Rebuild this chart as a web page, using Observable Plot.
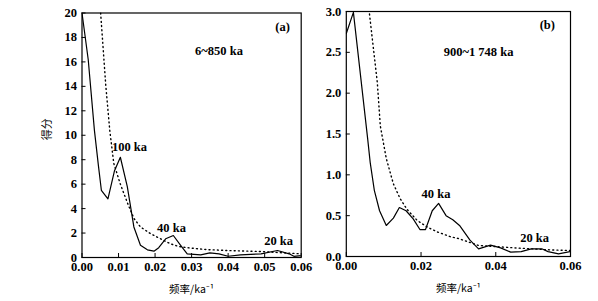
<!DOCTYPE html>
<html><head><meta charset="utf-8">
<script src="https://cdn.jsdelivr.net/npm/d3@7"></script>
<script src="https://cdn.jsdelivr.net/npm/@observablehq/plot@0.6"></script>
<style>
body{margin:0;background:#fff;}
#wrap{position:relative;width:598px;height:301px;overflow:hidden;}
#wrap svg{position:absolute;top:0;}
</style>
</head><body><div id="wrap"></div>
<script>
// Panel (a): 6~850 ka
const aFreq  = [0, 0.0017, 0.0034, 0.0045, 0.0053, 0.0071, 0.0089, 0.0105, 0.0124, 0.0142, 0.016, 0.0179, 0.0197, 0.021, 0.0229, 0.025, 0.027, 0.0288, 0.0325, 0.035, 0.0375, 0.04, 0.0434, 0.049, 0.0535, 0.0567, 0.058, 0.06];
const aScore = [20, 16.2, 10.4, 7.5, 5.5, 4.8, 7.1, 8.2, 5.8, 2.5, 1.0, 0.63, 0.52, 0.8, 1.53, 1.8, 1.0, 0.3, 0.22, 0.38, 0.3, 0.1, 0.22, 0.3, 0.57, 0.3, 0.1, 0.16];
const aRedFreq  = [0.0051, 0.0065, 0.0076, 0.0087, 0.0105, 0.0124, 0.0142, 0.016, 0.0188, 0.0215, 0.0242, 0.0265, 0.0288, 0.034, 0.0398, 0.049, 0.06];
const aRedScore = [20, 14.1, 10.4, 7.7, 6.0, 4.5, 3.2, 2.5, 1.94, 1.53, 1.12, 0.9, 0.8, 0.65, 0.57, 0.49, 0.3];
const aYTicks = [0, 2, 4, 6, 8, 10, 12, 14, 16, 18, 20];
const aXTicks = [0, 0.01, 0.02, 0.03, 0.04, 0.05, 0.06];
const aNotes = [
  {x: 0.0549, y: 18.85, t: "(a)"},
  {x: 0.0375, y: 16.9, t: "6~850 ka"},
  {x: 0.0130, y: 9.0, t: "100 ka"},
  {x: 0.0245, y: 2.45, t: "40 ka"},
  {x: 0.0538, y: 1.38, t: "20 ka"}
];

// Panel (b): 900~1 748 ka
const bFreq  = [0, 0.0019, 0.0057, 0.0064, 0.0075, 0.0089, 0.0107, 0.0126, 0.0142, 0.016, 0.0179, 0.0197, 0.0212, 0.023, 0.0247, 0.0267, 0.0285, 0.0303, 0.0331, 0.0354, 0.0386, 0.0413, 0.044, 0.0468, 0.0495, 0.0523, 0.054, 0.0568, 0.06];
const bScore = [2.73, 2.99, 1.45, 1.15, 0.81, 0.56, 0.38, 0.47, 0.6, 0.56, 0.46, 0.33, 0.33, 0.56, 0.65, 0.5, 0.45, 0.38, 0.2, 0.094, 0.14, 0.106, 0.053, 0.06, 0.094, 0.094, 0.06, 0.033, 0.06];
const bRedFreq  = [0.0062, 0.0083, 0.0091, 0.0107, 0.0126, 0.0144, 0.0162, 0.019, 0.0217, 0.0244, 0.028, 0.03, 0.0354, 0.045, 0.054, 0.06];
const bRedScore = [2.97, 2.13, 1.6, 1.2, 0.89, 0.71, 0.58, 0.44, 0.36, 0.30, 0.24, 0.22, 0.135, 0.106, 0.082, 0.073];
const bYTicks = [0, 0.5, 1.0, 1.5, 2.0, 2.5, 3.0];
const bXTicks = [0, 0.02, 0.04, 0.06];
const bNotes = [
  {x: 0.0538, y: 2.84, t: "(b)"},
  {x: 0.0354, y: 2.51, t: "900~1 748 ka"},
  {x: 0.0240, y: 0.77, t: "40 ka"},
  {x: 0.0504, y: 0.23, t: "20 ka"}
];

const yLabel = "得分";
const xLabel = "频率/ka⁻¹";

const serif = "Liberation Serif";
const cjk = "Noto Sans CJK SC";

function panel(o) {
  const solid = o.fx.map((x, i) => ({x, y: o.fy[i]}));
  const red = o.rx.map((x, i) => ({x, y: o.ry[i]}));
  return Plot.plot({
    width: o.width, height: 301,
    marginLeft: o.ml, marginRight: o.mr, marginTop: o.mt, marginBottom: o.mb,
    style: {fontFamily: serif, fontSize: "12px", color: "#000", background: "transparent", overflow: "visible"},
    x: {domain: [0, 0.06]},
    y: {domain: o.ydom},
    marks: [
      Plot.frame({stroke: "#000", strokeWidth: 1.2}),
      Plot.axisY({ticks: o.yt, tickSize: -4, text: null, label: null, strokeWidth: 1}),
      Plot.axisY({ticks: o.yt, tickSize: 0, tickPadding: 5, tickFormat: o.yfmt, label: null, fontFamily: serif, fontSize: 12.5, fontWeight: "bold"}),
      Plot.axisX({ticks: o.xt, tickSize: -4, text: null, label: null, strokeWidth: 1}),
      Plot.axisX({ticks: o.xt, tickSize: 0, tickPadding: 5, tickFormat: d3.format(".2f"), label: null, fontFamily: serif, fontSize: 12.5, fontWeight: "bold"}),
      Plot.line(red, {x: "x", y: "y", stroke: "#000", strokeWidth: 1.4, strokeDasharray: "1 3.2", clip: true}),
      Plot.line(solid, {x: "x", y: "y", stroke: "#000", strokeWidth: 1.2, clip: true}),
      Plot.text(o.notes, {x: "x", y: "y", text: "t", fontFamily: serif, fontSize: 12.5, fontWeight: "bold", fill: "#000"}),
      Plot.text([xLabel], {frameAnchor: "bottom", dy: 35, fontFamily: cjk, fontSize: 10.5, fill: "#000"}),
      ...(o.ylab ? [Plot.text([yLabel], {frameAnchor: "left", dx: -35, dy: 5, rotate: -90, fontFamily: cjk, fontSize: 11, fill: "#000"})] : [])
    ]
  });
}

const wrap = document.getElementById("wrap");
const pa = panel({width: 325, ml: 81.5, mr: 24.3, mt: 12.5, mb: 44, ydom: [0, 20], yt: aYTicks, xt: aXTicks,
  yfmt: d3.format("d"), fx: aFreq, fy: aScore, rx: aRedFreq, ry: aRedScore, notes: aNotes, ylab: true});
pa.style.left = "0px";
wrap.appendChild(pa);
const pb = panel({width: 293, ml: 40.8, mr: 28, mt: 11, mb: 45, ydom: [0, 3], yt: bYTicks, xt: bXTicks,
  yfmt: d3.format(".1f"), fx: bFreq, fy: bScore, rx: bRedFreq, ry: bRedScore, notes: bNotes, ylab: false});
pb.style.left = "305px";
wrap.appendChild(pb);
</script>
</body></html>
